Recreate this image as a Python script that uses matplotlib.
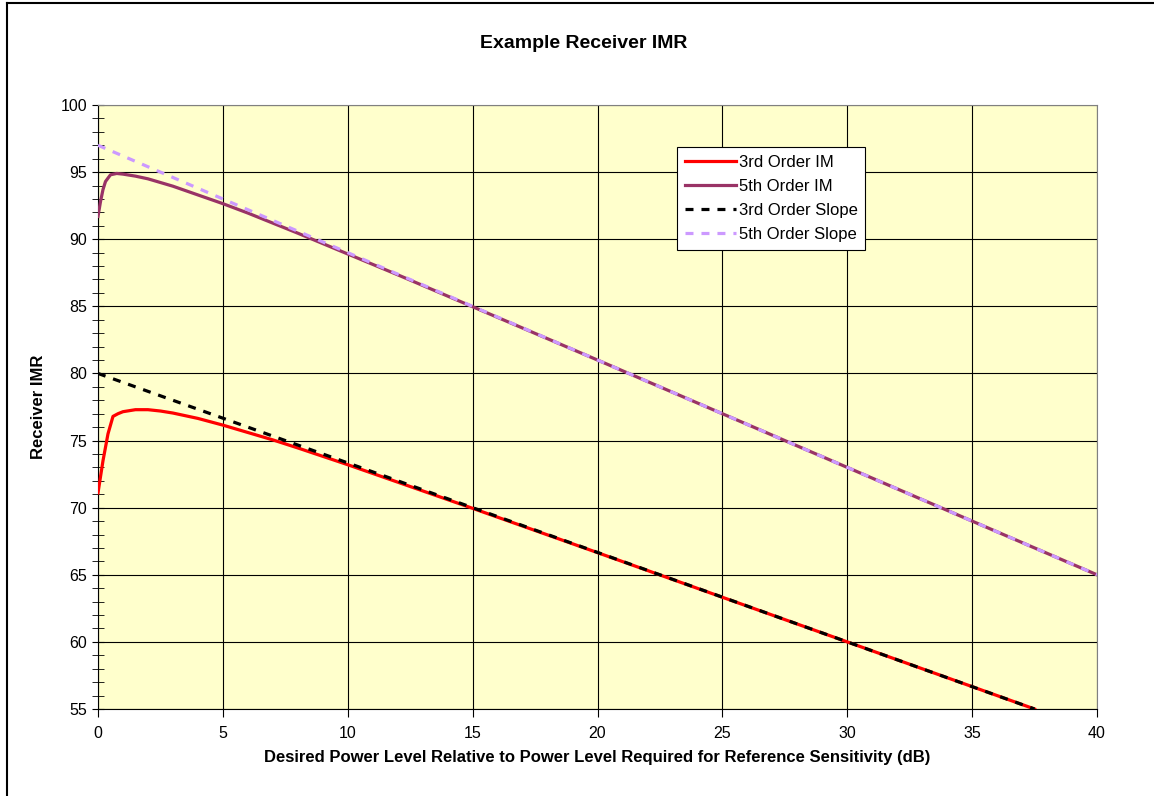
import matplotlib
matplotlib.use('Agg')
import matplotlib.pyplot as plt
from matplotlib.lines import Line2D
from matplotlib.ticker import MultipleLocator

plt.rcParams['font.family'] = ['Liberation Sans', 'DejaVu Sans']

# Values
im3_x = [0, 0.2, 0.4, 0.6, 0.8, 1, 1.5, 2, 2.5, 3, 4, 5, 6, 7, 8, 10, 12, 15, 20, 30, 37.5]
im3_y = [71.1, 73.5, 75.5, 76.8, 77.0, 77.15, 77.3, 77.3, 77.2, 77.05, 76.65, 76.15,
         75.6, 75.05, 74.45, 73.2, 71.9, 69.95, 66.65, 60.0, 55.0]

im5_x = [0, 0.1, 0.2, 0.3, 0.5, 0.75, 1, 1.5, 2, 3, 4, 5, 6, 7, 8, 10, 12, 15, 20, 30, 40]
im5_y = [91.7, 92.8, 93.7, 94.3, 94.8, 94.9, 94.85, 94.7, 94.5, 93.95, 93.3, 92.65,
         91.95, 91.2, 90.45, 88.9, 87.35, 84.97, 81.0, 73.0, 65.0]

slope3_x = [0, 37.5]
slope3_y = [80.0, 55.0]
slope5_x = [0, 40]
slope5_y = [97.0, 65.0]

fig = plt.figure(figsize=(11.54, 7.96), dpi=100)
ax = fig.add_axes([98 / 1154, 1 - 709 / 796, 999 / 1154, 604 / 796])
ax.set_facecolor('#FFFFCC')

ax.plot(im3_x, im3_y, color='#FF0000', lw=2.3, label='3rd Order IM', zorder=3)
ax.plot(im5_x, im5_y, color='#993366', lw=2.3, label='5th Order IM', zorder=3)
ax.plot(slope3_x, slope3_y, color='black', lw=2.3, ls=(0, (2.5, 2.5)),
        label='3rd Order Slope', zorder=4)
ax.plot(slope5_x, slope5_y, color='#CC99FF', lw=2.3, ls=(0, (2.5, 2.5)),
        label='5th Order Slope', zorder=4)

ax.set_xlim(0, 40)
ax.set_ylim(55, 100)
ax.xaxis.set_major_locator(MultipleLocator(5))
ax.yaxis.set_major_locator(MultipleLocator(5))
ax.yaxis.set_minor_locator(MultipleLocator(1))
ax.grid(True, which='major', color='black', lw=0.8)
ax.set_axisbelow(True)

ax.tick_params(axis='x', direction='out', length=6, labelsize=11.5, pad=6)
ax.tick_params(axis='y', which='major', direction='inout', length=8, labelsize=11.5, pad=4)
ax.tick_params(axis='y', which='minor', direction='inout', length=8)
for side in ['top', 'right']:
    ax.spines[side].set_color('#808080')
for side in ['left', 'bottom']:
    ax.spines[side].set_color('black')

ax.set_xlabel('Desired Power Level Relative to Power Level Required for Reference Sensitivity (dB)',
              fontsize=12, fontweight='bold', labelpad=7)
ax.set_ylabel('Receiver IMR', fontsize=12, fontweight='bold', labelpad=10)
fig.text(584 / 1154, 1 - 43 / 796, 'Example Receiver IMR', ha='center', va='center',
         fontsize=14, fontweight='bold')

leg = ax.legend(loc='upper left', bbox_to_anchor=((677 - 98) / 999, (709 - 147) / 604),
                fontsize=12, fancybox=False, framealpha=1, edgecolor='black',
                handlelength=3.1, handletextpad=0.15, borderpad=0.45, labelspacing=0.55,
                borderaxespad=0)
leg.get_frame().set_linewidth(0.8)

# outer chart border (left and top only visible)
fig.add_artist(Line2D([7 / 1154, 7 / 1154], [0, 1 - 2.5 / 796], color='black', lw=1.5))
fig.add_artist(Line2D([7 / 1154, 1], [1 - 2.5 / 796, 1 - 2.5 / 796], color='black', lw=1.5))

fig.savefig('out.png', dpi=100)
